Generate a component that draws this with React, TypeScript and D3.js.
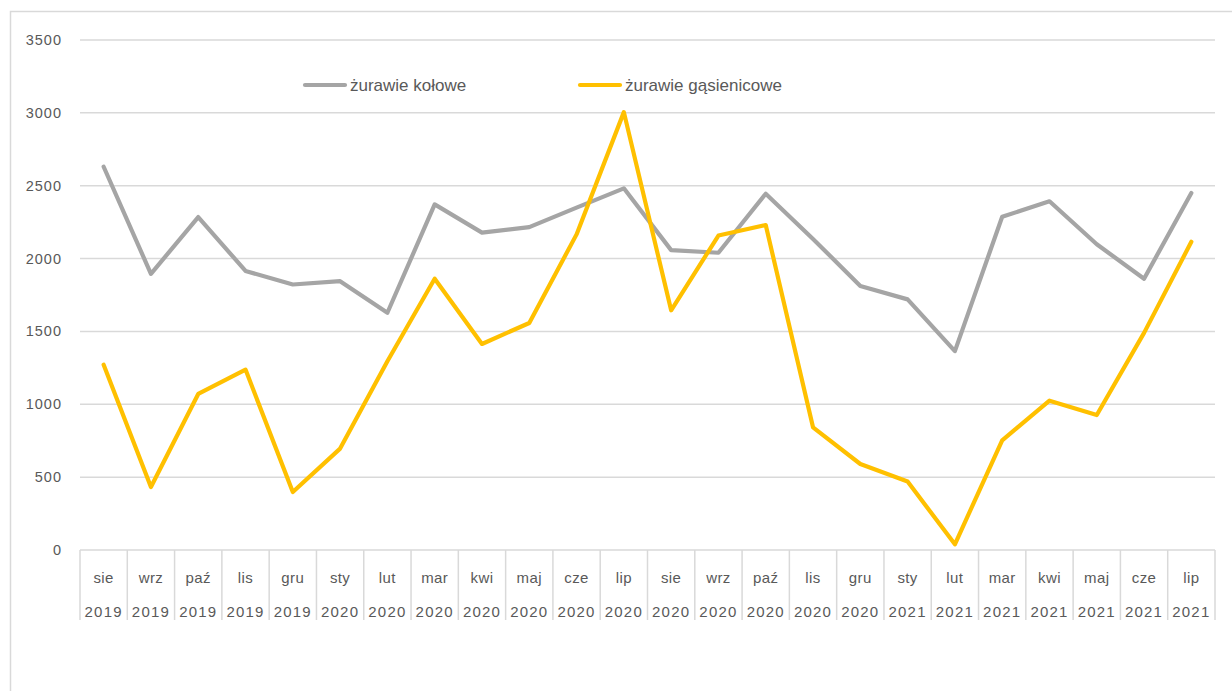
import { scaleBand, scaleLinear, line } from "d3";
import { useMemo } from "react";

const months = [
  "sie", "wrz", "paź", "lis", "gru", "sty", "lut", "mar", "kwi", "maj", "cze", "lip",
  "sie", "wrz", "paź", "lis", "gru", "sty", "lut", "mar", "kwi", "maj", "cze", "lip",
];
const years = [
  "2019", "2019", "2019", "2019", "2019", "2020", "2020", "2020", "2020", "2020", "2020", "2020",
  "2020", "2020", "2020", "2020", "2020", "2021", "2021", "2021", "2021", "2021", "2021", "2021",
];
const kolowe = [
  2630, 1895, 2285, 1915, 1822, 1845, 1628, 2372, 2178, 2216, 2350, 2482,
  2058, 2040, 2445, 2135, 1812, 1720, 1365, 2287, 2393, 2098, 1862, 2450,
];
const gasienicowe = [
  1272, 432, 1071, 1238, 398, 696, 1295, 1862, 1414, 1558, 2166, 3005,
  1645, 2158, 2230, 842, 590, 470, 39, 753, 1025, 926, 1490, 2115,
];
const yTicks = [0, 500, 1000, 1500, 2000, 2500, 3000, 3500];

const series = [
  { name: "żurawie kołowe", values: kolowe, color: "#a5a5a5" },
  { name: "żurawie gąsienicowe", values: gasienicowe, color: "#ffc000" },
];

const W = 1232;
const H = 691;
const left = 80;
const right = 1215;
const top = 40;
const bottom = 550;
const font = "'Liberation Sans', 'Open Sans', sans-serif";
const textColor = "#595959";
const gridColor = "#d9d9d9";

export default function App() {
  const x = useMemo(
    () => scaleBand<number>().domain(months.map((_, i) => i)).range([left, right]).padding(0),
    []
  );
  const y = useMemo(() => scaleLinear().domain([0, 3500]).range([bottom, top]), []);
  const bw = x.bandwidth();

  const path = line<number>()
    .x((_, i) => (x(i) ?? 0) + bw / 2)
    .y((d) => y(d));

  const legendX = [305, 580];

  return (
    <svg
      width={W}
      height={H}
      style={{ position: "absolute", left: 0, top: 0, background: "#fff" }}
      fontFamily={font}
    >
      <rect x={10.5} y={11.5} width={1240} height={720} fill="#fff" stroke={gridColor} strokeWidth={1.5} />

      {yTicks.map((t) => (
        <g key={t}>
          {t > 0 && (
            <line x1={left} x2={right} y1={y(t)} y2={y(t)} stroke={gridColor} strokeWidth={1.5} />
          )}
          <text
            x={62}
            y={y(t)}
            textAnchor="end"
            dominantBaseline="central"
            fontSize={14.5}
            letterSpacing={1}
            fill={textColor}
          >
            {t}
          </text>
        </g>
      ))}

      <line x1={left} x2={right} y1={bottom} y2={bottom} stroke={gridColor} strokeWidth={1.5} />
      {months.map((_, i) => (
        <line
          key={"s" + i}
          x1={x(i)}
          x2={x(i)}
          y1={bottom}
          y2={620}
          stroke={gridColor}
          strokeWidth={1.5}
        />
      ))}
      <line x1={right} x2={right} y1={bottom} y2={620} stroke={gridColor} strokeWidth={1.5} />

      {months.map((m, i) => (
        <g key={"l" + i} fill={textColor} fontSize={15} textAnchor="middle">
          <text x={(x(i) ?? 0) + bw / 2} y={577} dominantBaseline="central" letterSpacing={0.4}>
            {m}
          </text>
          <text x={(x(i) ?? 0) + bw / 2} y={611} dominantBaseline="central" letterSpacing={1.2}>
            {years[i]}
          </text>
        </g>
      ))}

      {series.map((s) => (
        <path
          key={s.name}
          d={path(s.values) ?? ""}
          fill="none"
          stroke={s.color}
          strokeWidth={4.2}
          strokeLinejoin="round"
          strokeLinecap="round"
        />
      ))}

      {series.map((s, i) => (
        <g key={"lg" + i}>
          <line
            x1={legendX[i]}
            x2={legendX[i] + 40}
            y1={85}
            y2={85}
            stroke={s.color}
            strokeWidth={4.2}
            strokeLinecap="round"
          />
          <text
            x={legendX[i] + 45}
            y={85}
            dominantBaseline="central"
            fontSize={17}
            fill={textColor}
          >
            {s.name}
          </text>
        </g>
      ))}
    </svg>
  );
}
